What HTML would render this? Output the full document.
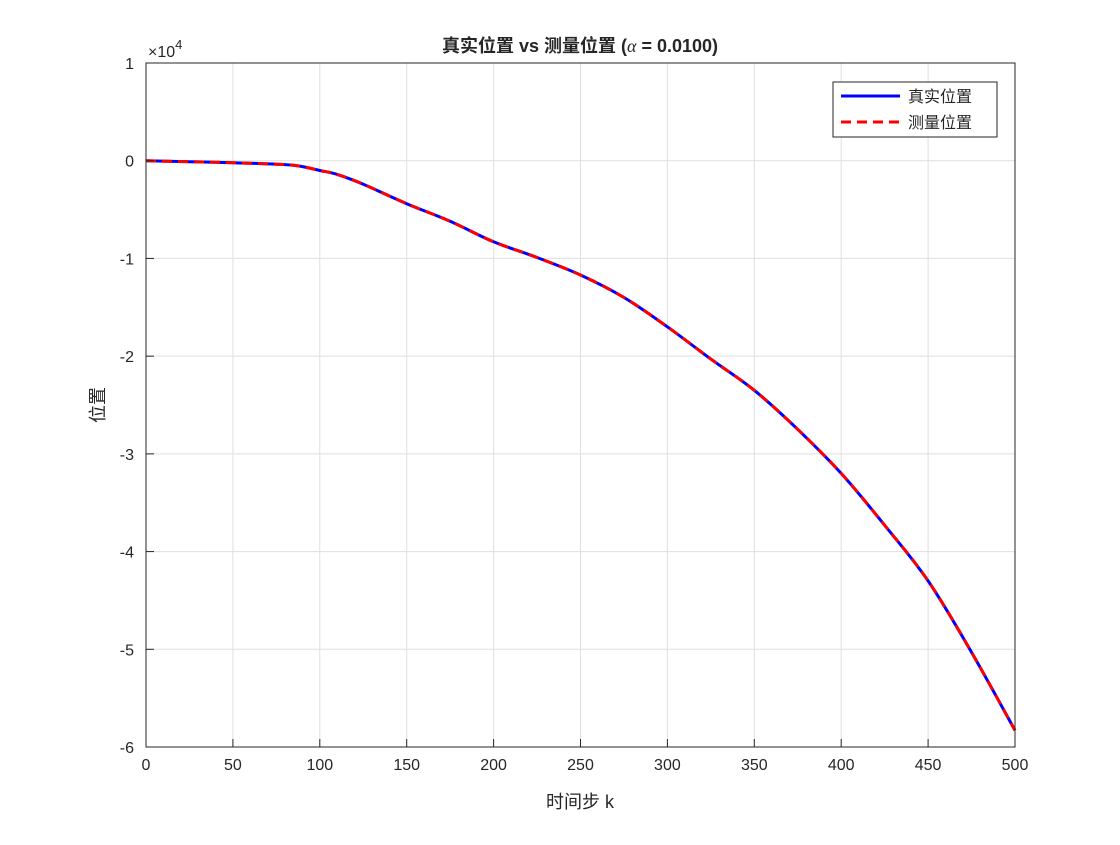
<!DOCTYPE html>
<html><head><meta charset="utf-8"><style>
body{margin:0;background:#fff;}
svg text{font-family:"Liberation Sans","Noto Sans CJK SC",sans-serif;fill:#262626;}
</style></head><body>
<svg id="chart" width="1120" height="840" xmlns="http://www.w3.org/2000/svg">
<rect x="0" y="0" width="1120" height="840" fill="#fff"/>
<g id="grid"></g>
<g id="series"></g>
<rect x="146" y="63" width="869" height="684" fill="none" stroke="#262626" stroke-width="1"/>
<g id="ticks"></g>
<text x="580" y="52" font-size="18" font-weight="bold" text-anchor="middle">真实位置 vs 测量位置 (<tspan font-family="Liberation Serif" font-style="italic" font-weight="normal">α</tspan> = 0.0100)</text>
<text x="580" y="808" font-size="18" text-anchor="middle">时间步 k</text>
<text transform="translate(104,405) rotate(-90)" font-size="18" text-anchor="middle">位置</text>
<text x="148" y="57" font-size="16">×10<tspan dy="-8" font-size="13">4</tspan></text>
<g>
<rect x="833" y="82" width="164" height="55" fill="#fff" stroke="#262626" stroke-width="1"/>
<line x1="841" y1="96" x2="900" y2="96" stroke="#0000ff" stroke-width="3"/>
<text x="908" y="102" font-size="16">真实位置</text>
<line x1="841" y1="122" x2="900" y2="122" stroke="#ff0000" stroke-width="3" stroke-dasharray="10,6"/>
<text x="908" y="128" font-size="16">测量位置</text>
</g>
</svg>
<script>
const kValues=[0,25,50,80,90,100,110,125,150,175,200,225,250,275,300,325,350,375,400,425,450,475,500];
const truePos=[0,-0.01,-0.02,-0.04,-0.06,-0.1,-0.14,-0.24,-0.44,-0.62,-0.83,-0.99,-1.17,-1.40,-1.70,-2.03,-2.35,-2.75,-3.2,-3.73,-4.3,-5.03,-5.83];
const measPos=[0,-0.01,-0.02,-0.04,-0.06,-0.1,-0.14,-0.24,-0.44,-0.62,-0.83,-0.99,-1.17,-1.40,-1.70,-2.03,-2.35,-2.75,-3.2,-3.73,-4.3,-5.03,-5.83];
const xTicks=[0,50,100,150,200,250,300,350,400,450,500];
const yTicks=[1,0,-1,-2,-3,-4,-5,-6];
const NS="http://www.w3.org/2000/svg";
const X0=146,X1=1015,Y0=63,Y1=747;
function xs(v){return X0+(v-0)/(500-0)*(X1-X0);}
function ys(v){return Y0+(1-v)/(1-(-6))*(Y1-Y0);}
function mk(t,a){const e=document.createElementNS(NS,t);for(const k in a)e.setAttribute(k,a[k]);return e;}
const grid=document.getElementById('grid'),ticks=document.getElementById('ticks'),series=document.getElementById('series');
xTicks.forEach(v=>{const x=xs(v);
 const g=mk('line',{x1:x,x2:x,y1:Y0,y2:Y1,stroke:'#dfdfdf','stroke-width':1});
 
 
 grid.appendChild(g);
 const t=mk('line',{x1:x,x2:x,y1:Y1,y2:Y1-8,stroke:'#262626'});
 
 
 ticks.appendChild(t);
 const l=mk('text',{x:x,y:Y1+23,'font-size':16,'text-anchor':'middle'});l.textContent=v;
 
 
 ticks.appendChild(l);});
yTicks.forEach(v=>{const y=ys(v);
 const g=mk('line',{x1:X0,x2:X1,y1:y,y2:y,stroke:'#dfdfdf','stroke-width':1});
 
 
 grid.appendChild(g);
 const t=mk('line',{x1:X0,x2:X0+8,y1:y,y2:y,stroke:'#262626'});
 
 
 ticks.appendChild(t);
 const l=mk('text',{x:X0-12,y:y+6,'font-size':16,'text-anchor':'end'});l.textContent=v;
 
 
 ticks.appendChild(l);});
function path(arr){
 const p=arr.map((v,i)=>[xs(kValues[i]),ys(v)]);
 let d='M'+p[0][0].toFixed(1)+','+p[0][1].toFixed(1);
 for(let i=0;i<p.length-1;i++){
  const a=p[Math.max(0,i-1)],b=p[i],c=p[i+1],e=p[Math.min(p.length-1,i+2)];
  const c1=[b[0]+(c[0]-a[0])/6,b[1]+(c[1]-a[1])/6],c2=[c[0]-(e[0]-b[0])/6,c[1]-(e[1]-b[1])/6];
  d+=' C'+c1[0].toFixed(1)+','+c1[1].toFixed(1)+' '+c2[0].toFixed(1)+','+c2[1].toFixed(1)+' '+c[0].toFixed(1)+','+c[1].toFixed(1);
 }
 return d;}
const p1=mk('path',{d:path(truePos),fill:'none',stroke:'#0000ff','stroke-width':3,'stroke-linejoin':'round'});


series.appendChild(p1);
const p2=mk('path',{d:path(measPos),fill:'none',stroke:'#ff0000','stroke-width':3,'stroke-dasharray':'10,6'});


series.appendChild(p2);
</script>
</body></html>
